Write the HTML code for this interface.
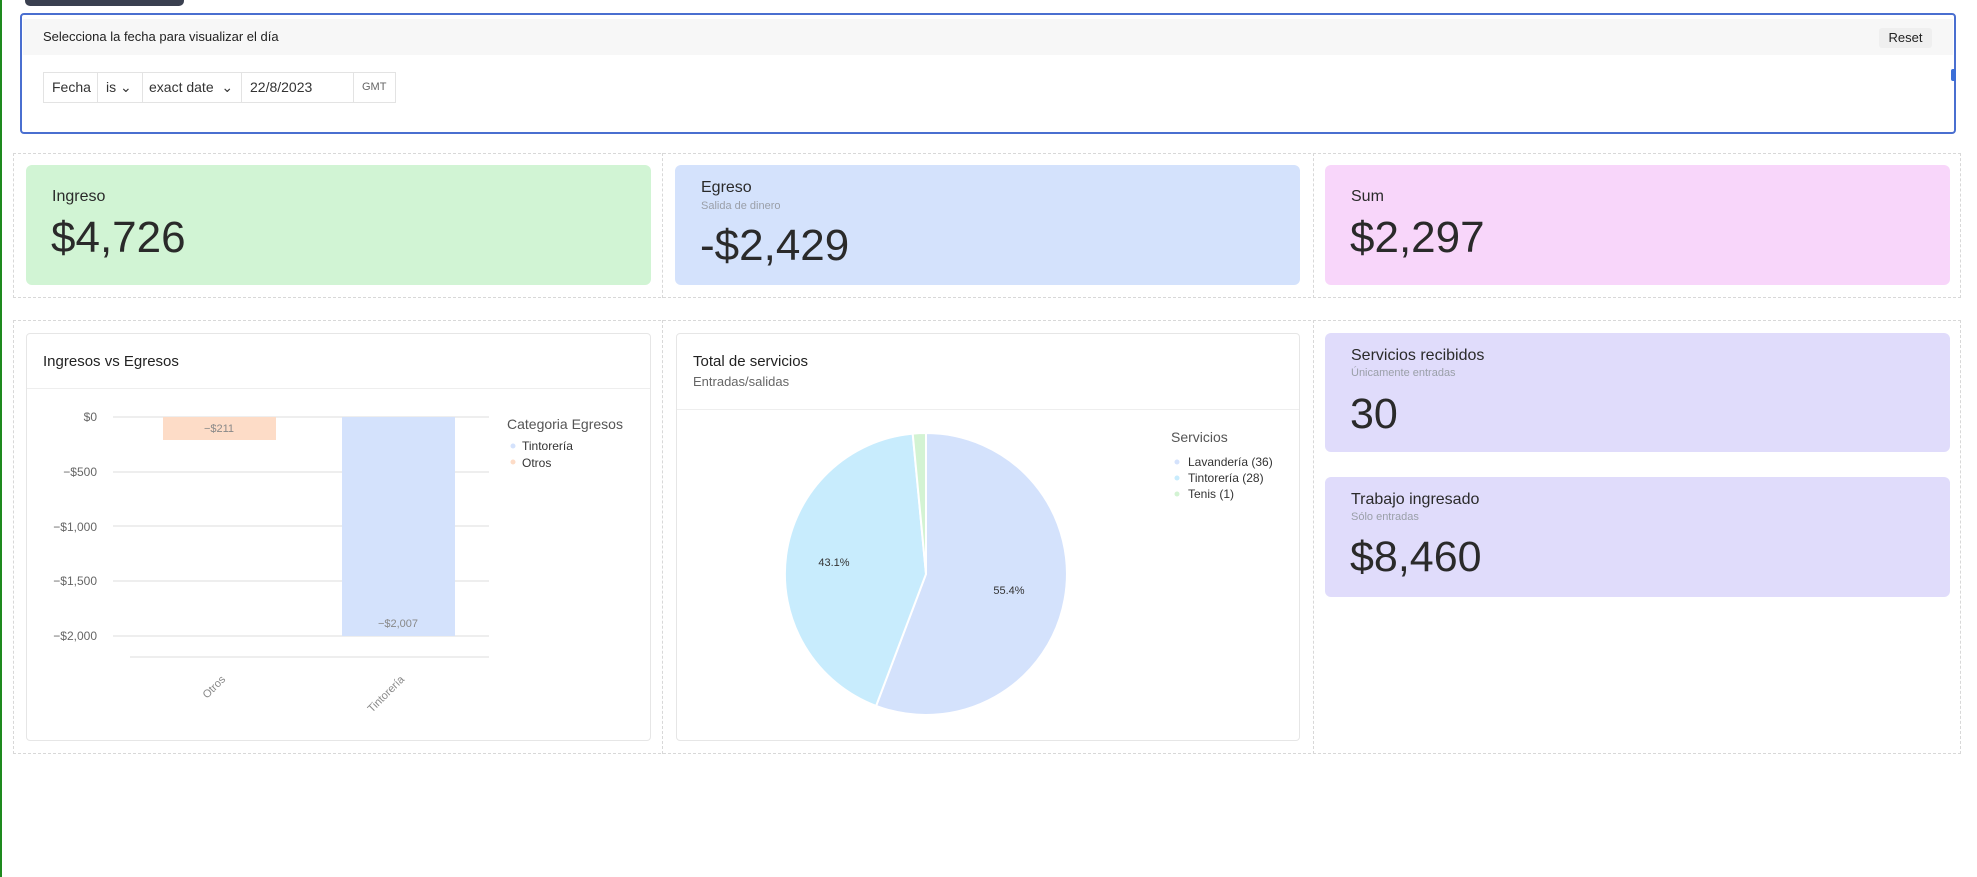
<!DOCTYPE html>
<html><head><meta charset="utf-8"><style>
*{box-sizing:border-box;margin:0;padding:0}
body{width:1977px;height:877px;background:#fff;font-family:"Liberation Sans",sans-serif;color:#2a2a2a;position:relative;overflow:hidden}
.a{position:absolute}
.dash{position:absolute;border:1.5px dashed #d8d8d8}
.card{position:absolute;border-radius:6px}
.lbl{position:absolute;font-size:16px;color:#2a2a2a}
.sub{position:absolute;font-size:11px;color:#9a9fa8}
.val{position:absolute;font-size:44px;color:#2a2a2a;line-height:1}
.box{position:absolute;top:72px;height:31px;border:1px solid #e3e3e3;font-size:14px;line-height:29px;padding-left:8px;color:#333}
</style></head><body>
<div class="a" style="left:0;top:0;width:2px;height:877px;background:#1e8a1e"></div>
<div class="a" style="left:25px;top:0;width:159px;height:6px;background:#3a4050;border-radius:0 0 5px 5px"></div>
<div class="a" style="left:20px;top:13px;width:1936px;height:121px;border:2px solid #4a6fd0;border-radius:4px"></div>
<div class="a" style="left:23px;top:19px;width:1930px;height:36px;background:#f7f7f7"></div>
<div class="a" style="left:43px;top:29px;font-size:13px;color:#222">Selecciona la fecha para visualizar el día</div>
<div class="a" style="left:1879px;top:28px;width:53px;height:20px;background:#efefef;border-radius:3px;font-size:13px;text-align:center;line-height:20px;color:#222">Reset</div>
<div class="a" style="left:1951px;top:69px;width:5px;height:12px;background:#3b6fd8;border-radius:2px"></div>
<div class="box" style="left:43px;width:55px">Fecha</div>
<div class="box" style="left:97px;width:46px">is ⌄</div>
<div class="box" style="left:142px;width:100px;padding-left:6px">exact date &nbsp;⌄</div>
<div class="box" style="left:241px;width:113px">22/8/2023</div>
<div class="box" style="left:353px;width:43px;font-size:11px;color:#666">GMT</div>

<div class="dash" style="left:13px;top:153px;width:1948px;height:145px"></div>
<div class="a" style="left:662px;top:153px;height:145px;border-left:1.5px dashed #d8d8d8"></div>
<div class="a" style="left:1313px;top:153px;height:145px;border-left:1.5px dashed #d8d8d8"></div>
<div class="card" style="left:26px;top:165px;width:625px;height:120px;background:#d1f4d4"></div>
<div class="card" style="left:675px;top:165px;width:625px;height:120px;background:#d4e2fc"></div>
<div class="card" style="left:1325px;top:165px;width:625px;height:120px;background:#f8d6fa"></div>
<div class="lbl" style="left:52px;top:188px">Ingreso</div>
<div class="val" style="left:51px;top:216px">$4,726</div>
<div class="lbl" style="left:701px;top:179px">Egreso</div>
<div class="sub" style="left:701px;top:200px">Salida de dinero</div>
<div class="val" style="left:700px;top:224px">-$2,429</div>
<div class="lbl" style="left:1351px;top:188px">Sum</div>
<div class="val" style="left:1350px;top:216px">$2,297</div>

<div class="dash" style="left:13px;top:320px;width:1948px;height:434px"></div>
<div class="a" style="left:662px;top:320px;height:434px;border-left:1.5px dashed #d8d8d8"></div>
<div class="a" style="left:1313px;top:320px;height:434px;border-left:1.5px dashed #d8d8d8"></div>

<div class="a" style="left:26px;top:333px;width:625px;height:408px;border:1px solid #e6e6e6;border-radius:4px"></div>
<div class="a" style="left:27px;top:388px;width:623px;border-top:1px solid #eee"></div>
<div class="a" style="left:43px;top:353px;font-size:15px;color:#222">Ingresos vs Egresos</div>
<svg class="a" style="left:0;top:0" width="660" height="760" font-family="Liberation Sans,sans-serif">
<g stroke="#dcdcdc" stroke-width="1">
<line x1="113" y1="417" x2="489" y2="417"/><line x1="113" y1="472" x2="489" y2="472"/><line x1="113" y1="526" x2="489" y2="526"/><line x1="113" y1="581" x2="489" y2="581"/><line x1="113" y1="636" x2="489" y2="636"/><line x1="130" y1="657" x2="489" y2="657"/></g>
<g font-size="12" fill="#666" text-anchor="end"><text x="97" y="421">$0</text><text x="97" y="476">−$500</text><text x="97" y="531">−$1,000</text><text x="97" y="585">−$1,500</text><text x="97" y="640">−$2,000</text></g>
<rect x="163" y="417" width="113" height="23" fill="#fddcc7"/>
<rect x="342" y="417" width="113" height="219" fill="#d4e2fc"/>
<g font-size="11" fill="#888" text-anchor="middle"><text x="219" y="432">−$211</text><text x="398" y="627">−$2,007</text></g>
<g font-size="11" fill="#888" text-anchor="end"><text transform="translate(226,680) rotate(-45)">Otros</text><text transform="translate(405,680) rotate(-45)">Tintorería</text></g>
<text x="507" y="429" font-size="14" fill="#555">Categoria Egresos</text>
<circle cx="513" cy="446" r="2.5" fill="#d4e2fc"/><circle cx="513" cy="462" r="2.5" fill="#fddcc7"/>
<g font-size="12" fill="#333"><text x="522" y="450">Tintorería</text><text x="522" y="467">Otros</text></g>
</svg>

<div class="a" style="left:676px;top:333px;width:624px;height:408px;border:1px solid #e6e6e6;border-radius:4px"></div>
<div class="a" style="left:677px;top:409px;width:622px;border-top:1px solid #eee"></div>
<div class="a" style="left:693px;top:353px;font-size:15px;color:#222">Total de servicios</div>
<div class="a" style="left:693px;top:374px;font-size:13px;color:#666">Entradas/salidas</div>
<svg class="a" style="left:660px;top:400px" width="660" height="360" font-family="Liberation Sans,sans-serif">
<g stroke="#fff" stroke-width="2">
<path d="M266,174 L266,33 A141,141 0 1,1 216.1,305.9 Z" fill="#d4e2fc"/>
<path d="M266,174 L216.1,305.9 A141,141 0 0,1 252.7,33.6 Z" fill="#c8ecfd"/>
<path d="M266,174 L252.7,33.6 A141,141 0 0,1 266,33 Z" fill="#d3f3d3"/>
</g>
<g font-size="11" fill="#333" text-anchor="middle"><text x="349" y="194">55.4%</text><text x="174" y="166">43.1%</text></g>
<text x="511" y="42" font-size="14" fill="#555">Servicios</text>
<circle cx="517" cy="62" r="2.5" fill="#d4e2fc"/><circle cx="517" cy="78" r="2.5" fill="#c8ecfd"/><circle cx="517" cy="94" r="2.5" fill="#d3f3d3"/>
<g font-size="12" fill="#333"><text x="528" y="66">Lavandería (36)</text><text x="528" y="82">Tintorería (28)</text><text x="528" y="98">Tenis (1)</text></g>
</svg>

<div class="card" style="left:1325px;top:333px;width:625px;height:119px;background:#e0dcfb"></div>
<div class="card" style="left:1325px;top:477px;width:625px;height:120px;background:#e0dcfb"></div>
<div class="lbl" style="left:1351px;top:347px">Servicios recibidos</div>
<div class="sub" style="left:1351px;top:367px">Únicamente entradas</div>
<div class="val" style="left:1350px;top:393px;font-size:43px">30</div>
<div class="lbl" style="left:1351px;top:491px">Trabajo ingresado</div>
<div class="sub" style="left:1351px;top:511px">Sólo entradas</div>
<div class="val" style="left:1350px;top:536px;font-size:43px">$8,460</div>
</body></html>
